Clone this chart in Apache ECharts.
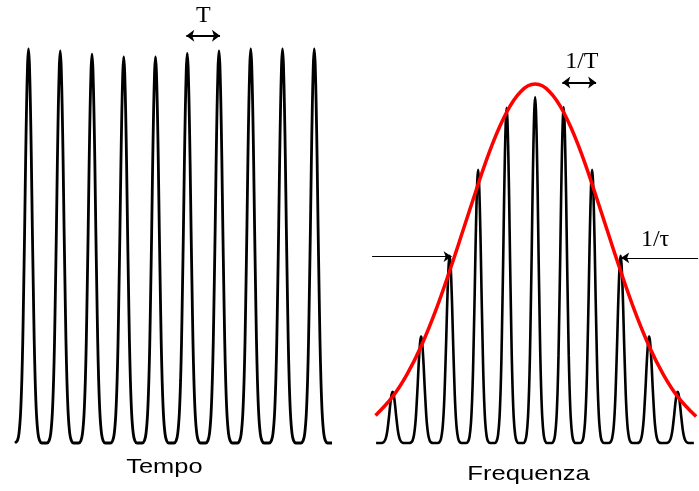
<!DOCTYPE html>
<html><head><meta charset="utf-8">
<script src="https://cdn.jsdelivr.net/npm/echarts@6/dist/echarts.min.js"></script>
<style>html,body{margin:0;padding:0;background:#fff}#c{width:699px;height:491px}</style>
</head><body><div id="c"></div>
<script>
// Pulse train in time: peak instants (in units of T) and peak heights
const pulseTimes = [0, 1, 2, 3, 4, 5, 6, 7, 8, 9];
const pulseHeights = [0.985, 0.98, 0.972, 0.965, 0.965, 0.974, 0.98, 0.985, 0.985, 0.985];
const timeSpan = [-0.425, 9.56];

// Frequency comb: line positions (in units of 1/T) and heights
const combFreqs = [-5, -4, -3, -2, -1, 0, 1, 2, 3, 4, 5];
const combHeights = [0.128, 0.266, 0.468, 0.683, 0.838, 0.865, 0.84, 0.683, 0.468, 0.266, 0.128];
const freqSpan = [-5.58, 5.57];

// Spectral envelope samples
const envFreqs  = [-5.6, -5, -4.5, -4, -3.5, -3, -2.5, -2, -1.75, -1.5, -1.25, -1, -0.75, -0.5, -0.25, 0,
                   0.25, 0.5, 0.75, 1, 1.25, 1.5, 1.75, 2, 2.5, 3, 3.5, 4, 4.5, 5, 5.65];
const envLevels = [0.069, 0.116, 0.171, 0.242, 0.329, 0.430, 0.538, 0.647, 0.699, 0.747, 0.790, 0.827, 0.857, 0.879, 0.893, 0.8975,
                   0.893, 0.879, 0.857, 0.827, 0.790, 0.747, 0.699, 0.647, 0.538, 0.430, 0.329, 0.242, 0.171, 0.116, 0.066];

// Shape of one pulse: offset from its peak (in periods) and relative level
const profileOffsets = [0, 0.03, 0.06, 0.09, 0.12, 0.15, 0.18, 0.21, 0.25, 0.30, 0.35, 0.42, 0.5];
const profileLevels  = [1, 0.96, 0.86, 0.72, 0.55, 0.40, 0.26, 0.16, 0.075, 0.024, 0.006, 0, 0];

// Annotation texts
const periodLabel = 'T';
const repLabel = '1/T';
const widthLabel = '1/\u03C4';
const timeTitle = 'Tempo';
const freqTitle = 'Frequenza';

// Builds the trace of a train of pulses sharing the same profile
function pulseTrace(peaks, heights, span) {
  const pts = [];
  peaks.forEach((p, i) => {
    const h = heights[i];
    for (let j = profileOffsets.length - 1; j >= 1; j--) {
      pts.push([p - profileOffsets[j], h * profileLevels[j]]);
    }
    pts.push([p, h]);
    for (let j = 1; j < profileOffsets.length; j++) {
      pts.push([p + profileOffsets[j], h * profileLevels[j]]);
    }
  });
  const out = [[span[0], 0]];
  pts.forEach(q => {
    if (q[0] <= span[0] || q[0] >= span[1]) return;
    const last = out[out.length - 1];
    if (Math.abs(last[0] - q[0]) < 1e-9) { last[1] = Math.max(last[1], q[1]); return; }
    out.push(q);
  });
  out.push([span[1], 0]);
  return out;
}

const chart = echarts.init(document.getElementById('c'), null, {renderer: 'canvas'});

const arrowLine = (from, to, width, size) => ({
  silent: true,
  symbol: ['arrow', 'arrow'],
  symbolSize: size,
  label: {show: false},
  lineStyle: {color: '#000', width: width, type: 'solid'},
  emphasis: {disabled: true},
  animation: false,
  data: [[{coord: from}, {coord: to}]]
});

chart.setOption({
  animation: false,
  grid: [
    {left: 14.21, width: 319.1, top: 3, height: 440},
    {left: 371.25, width: 328.9, top: 3, height: 440}
  ],
  xAxis: [
    {gridIndex: 0, type: 'value', min: -0.45, max: 9.6, show: false},
    {gridIndex: 1, type: 'value', min: -5.75, max: 5.75, show: false}
  ],
  yAxis: [
    {gridIndex: 0, type: 'value', min: 0, max: 1.1, show: false},
    {gridIndex: 1, type: 'value', min: 0, max: 1.1, show: false}
  ],
  series: [
    {
      type: 'line', xAxisIndex: 0, yAxisIndex: 0,
      data: pulseTrace(pulseTimes, pulseHeights, timeSpan),
      showSymbol: false, smooth: 0.25, clip: false,
      lineStyle: {color: '#000', width: 2.8},
      markLine: arrowLine([4.97, 1.018], [6.03, 1.018], 2, [9, 8])
    },
    {
      type: 'line', xAxisIndex: 1, yAxisIndex: 1,
      data: pulseTrace(combFreqs, combHeights, freqSpan),
      showSymbol: false, smooth: 0.25, clip: false,
      lineStyle: {color: '#000', width: 2.6},
      markLine: arrowLine([0.955, 0.901], [2.14, 0.901], 2, [9, 8])
    },
    {
      type: 'line', xAxisIndex: 1, yAxisIndex: 1,
      data: envFreqs.map((f, i) => [f, envLevels[i]]),
      showSymbol: false, smooth: 0.4, clip: false,
      lineStyle: {color: '#f00', width: 3.5},
      markLine: {
        silent: true,
        symbol: ['none', 'arrow'],
        symbolSize: 8,
        label: {show: false},
        lineStyle: {color: '#000', width: 1.2, type: 'solid'},
        animation: false,
        data: [
          [{coord: [-5.72, 0.466]}, {coord: [-2.93, 0.466]}],
          [{coord: [5.72, 0.463]}, {coord: [3.02, 0.463]}]
        ]
      }
    }
  ]
});

// Text annotations placed in data coordinates
const serif = '24px "Liberation Serif", serif';
const sans = '21px "Liberation Sans", Arial, sans-serif';
const texts = [
  {grid: 0, at: [5.51, 1.069], text: periodLabel, font: serif, sx: 1},
  {grid: 1, at: [1.64, 0.9525], text: repLabel, font: serif, sx: 1},
  {grid: 1, at: [4.21, 0.5075], text: widthLabel, font: serif, sx: 1},
  {grid: 0, at: [4.28, -0.06], text: timeTitle, font: sans, sx: 1.21},
  {grid: 1, at: [-0.23, -0.0775], text: freqTitle, font: sans, sx: 1.22}
];
chart.setOption({
  graphic: texts.map(t => {
    const p = chart.convertToPixel({gridIndex: t.grid}, t.at);
    return {
      type: 'text', x: p[0], y: p[1], scaleX: t.sx, silent: true,
      style: {text: t.text, x: 0, y: 0, align: 'center', verticalAlign: 'middle', font: t.font, fill: '#000'}
    };
  })
});
</script>
</body></html>
